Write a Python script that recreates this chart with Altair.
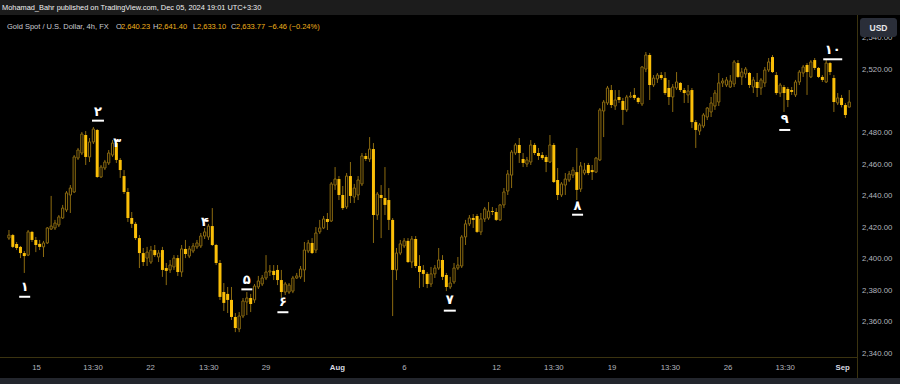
import altair as alt
import pandas as pd

# ---------------- data ----------------
OPEN = [
    2413.5, 2415.4, 2409.8, 2407.9, 2404.0, 2402.7, 2417.4, 2412.3, 2409.8, 2407.9,
    2410.4, 2419.2, 2419.9, 2421.8, 2426.2, 2431.3, 2440.8, 2442.7, 2464.2, 2467.4,
    2478.8, 2464.9, 2474.4, 2482.0, 2452.2, 2457.9, 2461.1, 2466.1, 2473.7, 2463.0,
    2452.8, 2442.7, 2426.2, 2422.5, 2413.5, 2404.0, 2400.8, 2398.3, 2405.9, 2401.5,
    2405.9, 2394.5, 2393.3, 2395.2, 2400.8, 2392.0, 2406.6, 2402.1, 2405.3, 2407.9,
    2408.5, 2414.8, 2414.2, 2421.1, 2409.1, 2397.7, 2379.3, 2378.1, 2374.3, 2363.5,
    2355.9, 2364.1, 2373.0, 2375.5, 2374.3, 2382.5, 2384.4, 2388.2, 2392.0, 2392.7,
    2393.3, 2386.9, 2379.3, 2379.3, 2379.9, 2388.2, 2388.9, 2393.3, 2405.3, 2410.4,
    2405.9, 2417.4, 2419.9, 2425.6, 2424.3, 2447.1, 2450.9, 2440.8, 2433.2, 2452.8,
    2439.5, 2440.8, 2447.8, 2465.5, 2463.6, 2469.9, 2428.1, 2440.8, 2438.9, 2437.6,
    2425.0, 2393.3, 2404.0, 2408.5, 2411.7, 2398.3, 2412.9, 2395.8, 2393.3, 2390.8,
    2384.4, 2390.8, 2394.5, 2399.6, 2390.1, 2382.5, 2385.7, 2394.5, 2395.8, 2414.2,
    2422.5, 2426.2, 2427.5, 2417.4, 2425.6, 2426.2, 2430.6, 2430.0, 2425.0, 2434.5,
    2443.3, 2453.4, 2467.4, 2472.5, 2463.6, 2460.4, 2461.7, 2472.5, 2467.4, 2466.1,
    2464.9, 2461.7, 2472.5, 2450.3, 2440.8, 2447.1, 2450.3, 2453.4, 2455.3, 2444.6,
    2454.7, 2459.8, 2456.6, 2455.3, 2463.0, 2494.0, 2499.1, 2507.3, 2497.2, 2502.9,
    2500.4, 2494.7, 2502.9, 2504.2, 2502.3, 2498.5, 2520.6, 2529.5, 2510.5, 2514.3,
    2516.8, 2514.9, 2508.6, 2502.9, 2508.6, 2511.8, 2507.3, 2504.2, 2507.3, 2487.0,
    2481.3, 2484.5, 2490.2, 2493.4, 2497.2, 2499.7, 2511.8, 2510.5, 2509.2, 2511.1,
    2524.4, 2515.6, 2517.5, 2518.1, 2509.2, 2512.4, 2508.6, 2511.8, 2520.0, 2528.2,
    2516.8, 2505.4, 2509.2, 2508.0, 2507.3, 2504.2, 2512.4, 2518.1, 2523.2, 2515.6,
    2526.3, 2521.3, 2515.6, 2512.4, 2524.4, 2514.9, 2499.1, 2502.3, 2497.8, 2496.5,
]
HIGH = [
    2418.6, 2416.1, 2411.0, 2408.5, 2405.3, 2418.6, 2418.0, 2414.2, 2412.3, 2411.7,
    2420.5, 2440.2, 2425.0, 2428.1, 2434.5, 2443.3, 2447.1, 2466.1, 2470.6, 2480.7,
    2481.3, 2476.9, 2483.9, 2482.6, 2459.8, 2463.0, 2469.3, 2475.6, 2475.6, 2464.2,
    2456.6, 2445.2, 2430.0, 2423.7, 2415.4, 2407.2, 2407.9, 2408.5, 2409.1, 2405.9,
    2407.9, 2397.7, 2399.6, 2402.7, 2402.7, 2409.1, 2412.3, 2408.5, 2410.4, 2412.3,
    2416.7, 2419.9, 2422.5, 2432.5, 2409.8, 2399.6, 2385.0, 2382.5, 2382.5, 2366.0,
    2366.6, 2375.5, 2379.3, 2378.1, 2384.4, 2389.5, 2390.1, 2402.7, 2396.4, 2396.4,
    2396.4, 2393.3, 2385.7, 2385.0, 2389.5, 2391.4, 2395.8, 2411.0, 2412.3, 2413.5,
    2420.5, 2425.0, 2427.5, 2429.4, 2449.0, 2458.5, 2452.8, 2446.5, 2454.7, 2461.7,
    2447.8, 2452.8, 2467.4, 2467.4, 2477.5, 2473.7, 2442.7, 2447.1, 2458.5, 2445.2,
    2426.2, 2407.2, 2412.3, 2413.5, 2413.5, 2414.8, 2414.8, 2402.7, 2396.4, 2392.0,
    2395.2, 2396.4, 2407.2, 2402.7, 2391.4, 2388.9, 2397.7, 2401.5, 2415.4, 2425.0,
    2428.1, 2428.7, 2428.7, 2429.4, 2433.2, 2436.3, 2433.2, 2432.5, 2435.1, 2445.2,
    2456.6, 2469.3, 2473.7, 2476.9, 2467.4, 2464.9, 2475.6, 2473.7, 2470.6, 2468.0,
    2466.1, 2478.8, 2473.7, 2457.9, 2449.0, 2454.7, 2456.0, 2458.5, 2470.6, 2461.7,
    2461.1, 2461.1, 2459.8, 2464.9, 2495.9, 2501.0, 2509.9, 2510.5, 2507.3, 2507.3,
    2502.3, 2504.2, 2506.1, 2508.6, 2502.9, 2522.5, 2531.4, 2530.8, 2516.8, 2518.1,
    2518.7, 2518.7, 2513.7, 2511.1, 2518.7, 2512.4, 2508.6, 2510.5, 2508.6, 2488.3,
    2486.4, 2492.7, 2496.5, 2502.9, 2507.3, 2518.1, 2514.9, 2515.6, 2516.8, 2526.3,
    2526.3, 2521.3, 2521.9, 2518.7, 2515.6, 2518.1, 2514.9, 2521.9, 2527.6, 2529.5,
    2518.7, 2511.8, 2510.5, 2509.2, 2509.2, 2513.7, 2520.0, 2523.2, 2524.4, 2526.3,
    2527.6, 2521.9, 2516.8, 2526.3, 2525.1, 2516.8, 2505.4, 2504.2, 2499.1, 2507.3,
]
LOW = [
    2412.3, 2407.2, 2405.9, 2400.8, 2391.4, 2402.1, 2411.0, 2404.6, 2405.9, 2401.5,
    2409.8, 2418.6, 2418.6, 2420.5, 2425.6, 2430.0, 2429.4, 2442.1, 2463.0, 2466.1,
    2459.8, 2461.7, 2473.1, 2451.6, 2451.6, 2456.6, 2459.8, 2464.9, 2461.1, 2451.6,
    2441.4, 2423.7, 2419.9, 2412.3, 2394.5, 2395.8, 2395.8, 2397.1, 2401.5, 2398.3,
    2388.9, 2383.7, 2391.4, 2393.3, 2389.5, 2388.9, 2400.8, 2400.8, 2404.0, 2406.6,
    2407.2, 2412.9, 2412.3, 2408.5, 2396.4, 2374.3, 2367.3, 2366.0, 2361.6, 2353.9,
    2353.9, 2362.8, 2364.7, 2366.6, 2372.4, 2381.2, 2383.1, 2386.9, 2389.5, 2386.9,
    2383.7, 2375.5, 2377.4, 2378.1, 2378.6, 2387.6, 2387.6, 2385.7, 2404.0, 2403.4,
    2404.0, 2416.1, 2419.2, 2418.6, 2423.7, 2444.0, 2437.6, 2431.3, 2431.9, 2435.7,
    2435.7, 2437.6, 2446.5, 2462.3, 2461.7, 2410.4, 2425.0, 2413.5, 2428.1, 2418.6,
    2364.1, 2386.9, 2402.7, 2407.2, 2397.7, 2394.5, 2394.5, 2381.8, 2382.5, 2381.8,
    2382.5, 2388.2, 2393.3, 2386.9, 2379.9, 2381.2, 2384.4, 2393.3, 2394.5, 2409.1,
    2421.1, 2419.9, 2416.7, 2415.4, 2423.7, 2425.0, 2428.1, 2424.3, 2424.3, 2432.5,
    2440.8, 2445.2, 2466.1, 2461.1, 2458.5, 2458.5, 2459.8, 2466.1, 2463.0, 2463.0,
    2455.3, 2461.1, 2448.4, 2437.6, 2439.5, 2440.8, 2449.0, 2451.6, 2437.6, 2442.7,
    2453.4, 2453.4, 2450.3, 2454.7, 2462.3, 2477.5, 2497.8, 2495.9, 2494.7, 2499.1,
    2485.2, 2493.4, 2502.3, 2501.0, 2498.5, 2497.2, 2518.7, 2501.0, 2509.2, 2511.8,
    2513.7, 2504.2, 2497.8, 2493.4, 2507.3, 2506.1, 2499.1, 2499.1, 2483.2, 2470.6,
    2478.8, 2483.2, 2488.3, 2490.2, 2494.7, 2497.2, 2509.2, 2509.2, 2508.6, 2509.2,
    2514.9, 2510.5, 2514.9, 2508.6, 2505.4, 2502.9, 2504.2, 2509.2, 2518.7, 2518.1,
    2504.2, 2502.9, 2493.4, 2496.5, 2504.2, 2502.9, 2510.5, 2515.6, 2504.2, 2514.9,
    2520.0, 2514.9, 2512.4, 2511.8, 2516.8, 2493.4, 2497.8, 2496.3, 2489.6, 2496.3,
]
CLOSE = [
    2415.4, 2407.9, 2407.2, 2404.0, 2402.1, 2417.4, 2412.3, 2409.1, 2407.9, 2410.4,
    2419.9, 2421.1, 2423.0, 2426.9, 2432.5, 2442.1, 2445.2, 2464.9, 2469.3, 2479.4,
    2464.9, 2474.4, 2482.6, 2452.2, 2458.5, 2461.7, 2467.4, 2473.7, 2463.0, 2456.6,
    2442.7, 2426.2, 2422.5, 2413.5, 2404.0, 2398.3, 2404.6, 2405.9, 2402.7, 2404.0,
    2393.3, 2392.7, 2396.4, 2400.8, 2392.0, 2406.6, 2403.4, 2406.6, 2408.5, 2410.4,
    2414.8, 2417.4, 2421.1, 2409.1, 2397.7, 2376.2, 2372.4, 2374.3, 2363.5, 2356.5,
    2364.1, 2373.6, 2375.5, 2371.7, 2383.1, 2386.3, 2388.2, 2392.0, 2392.7, 2390.1,
    2386.9, 2379.3, 2384.4, 2383.7, 2388.2, 2389.5, 2393.9, 2405.9, 2410.4, 2404.0,
    2416.7, 2419.9, 2425.6, 2423.7, 2447.8, 2450.9, 2440.8, 2432.5, 2452.8, 2440.2,
    2445.2, 2450.3, 2465.5, 2463.6, 2469.9, 2428.1, 2441.4, 2438.9, 2434.5, 2425.0,
    2393.3, 2404.0, 2409.8, 2411.7, 2398.3, 2412.9, 2395.8, 2392.0, 2390.8, 2384.4,
    2390.8, 2394.5, 2399.6, 2388.9, 2382.5, 2385.0, 2394.5, 2396.4, 2414.2, 2422.5,
    2426.2, 2425.0, 2417.4, 2425.6, 2431.9, 2430.6, 2430.0, 2425.0, 2434.5, 2442.7,
    2454.1, 2468.0, 2472.5, 2467.4, 2461.1, 2463.0, 2472.5, 2467.4, 2465.5, 2464.2,
    2461.7, 2472.5, 2449.0, 2440.8, 2447.8, 2450.9, 2454.1, 2456.6, 2444.0, 2459.2,
    2456.6, 2454.7, 2455.3, 2464.2, 2494.7, 2499.7, 2508.6, 2497.8, 2501.0, 2501.0,
    2494.7, 2502.9, 2503.5, 2502.3, 2499.7, 2521.9, 2529.5, 2510.5, 2514.9, 2516.8,
    2514.9, 2505.4, 2502.9, 2509.2, 2512.4, 2507.3, 2505.4, 2506.7, 2487.0, 2482.0,
    2485.2, 2491.5, 2495.9, 2499.1, 2505.4, 2511.8, 2513.0, 2513.7, 2513.0, 2525.1,
    2515.6, 2518.7, 2520.6, 2510.5, 2513.7, 2508.6, 2513.7, 2520.0, 2525.1, 2518.7,
    2505.4, 2510.5, 2505.4, 2501.0, 2506.1, 2512.4, 2518.7, 2521.9, 2518.7, 2525.1,
    2521.3, 2515.6, 2513.7, 2524.4, 2518.7, 2499.7, 2502.3, 2497.8, 2491.5, 2499.7,
]

# time-axis labels and the candle position they sit at
XLAB_POS = [7.2, 21.9, 36.9, 52.1, 67.0, 85.6, 103.1, 127.1, 142.0, 157.2, 172.4, 187.4, 202.3, 217.3]
XLAB_TXT = ["15", "13:30", "22", "13:30", "29", "Aug", "6", "12", "13:30", "19", "13:30", "26", "13:30", "Sep"]
XLAB_BOLD = [False, False, False, False, False, True, False, False, False, False, False, False, False, True]

# price-axis labels
YTICKS = [2540, 2520, 2480, 2460, 2440, 2420, 2400, 2380, 2360, 2340]

# legend values
LEG_KEYS = ["O", "H", "L", "C"]
LEG_VALS = ["2,640.23", "2,641.40", "2,633.10", "2,633.77"]
LEG_CHANGE = "−6.46 (−0.24%)"

# wave-count annotations (Persian digits): candle position, text price, underline price
ANN_TXT = ["۱", "۲", "۳", "۴", "۵", "۶", "۷", "۸", "۹", "۱۰"]
ANN_POS = [4.1, 23.2, 28.2, 51.1, 62.0, 71.4, 114.9, 148.2, 202.2, 214.7]
ANN_PRICE = [2382.7, 2493.6, 2473.6, 2423.9, 2386.9, 2373.2, 2374.3, 2433.8, 2488.8, 2532.7]
BAR_PRICE = [2376.3, 2487.9, None, None, 2381.0, 2366.5, 2367.5, 2428.3, 2482.0, 2526.8]
BAR_LEN = [11, 12, 0, 0, 11, 11, 12, 11, 11, 19]

# ---------------- styling ----------------
W, H = 900, 384
BG = "#000000"
BRIGHT = "#fbbf08"
DARK = "#8c6b10"
AXIS_TXT = "#b2b5be"
SEP = "#3b3310"
GOLD_TXT = "#f0b21c"
FONT = "Liberation Sans, Arial, sans-serif"

xs = alt.Scale(domain=[-1.031, 230.93], nice=False, zero=False)
ys = alt.Scale(domain=[2321.02, 2564.36], nice=False, zero=False)

df = pd.DataFrame({"i": list(range(len(OPEN))), "open": OPEN, "high": HIGH, "low": LOW, "close": CLOSE})
df["up"] = df["close"] >= df["open"]

X = alt.X("i:Q", scale=xs, axis=None)

wicks = alt.Chart(df).mark_rule(color=DARK, strokeWidth=1).encode(
    x=X, y=alt.Y("low:Q", scale=ys, axis=None), y2="high:Q")

up_bodies = alt.Chart(df).transform_filter("datum.up").mark_bar(
    size=2.2, fill=BG, stroke=DARK, strokeWidth=1).encode(
    x=X, y=alt.Y("open:Q", scale=ys, axis=None), y2="close:Q")

down_bodies = alt.Chart(df).transform_filter("!datum.up").mark_bar(
    size=3, color=BRIGHT).encode(
    x=X, y=alt.Y("open:Q", scale=ys, axis=None), y2="close:Q")

DUMMY = pd.DataFrame({"k": [0]})


def rect(x1, x2, y1, y2, color):
    return alt.Chart(DUMMY).mark_rect(color=color).encode(
        x=alt.value(x1), x2=alt.value(x2), y=alt.value(y1), y2=alt.value(y2))


def label(text, x, y, color, size=9, weight="normal", align="left", font=FONT):
    return alt.Chart(DUMMY).mark_text(
        text=text, align=align, baseline="middle", color=color,
        fontSize=size, fontWeight=weight, font=font).encode(
        x=alt.value(x), y=alt.value(y))


layers = []
# panels
layers.append(rect(0, 900, 0, 15, "#1c1c1c"))
layers.append(rect(0, 900, 378, 384, "#23262d"))
layers.append(rect(0, 857, 357, 358, SEP))
layers.append(rect(857, 858, 15, 378, SEP))

# candles
layers += [wicks, up_bodies, down_bodies]

# y labels
ydf = pd.DataFrame({"v": YTICKS})
layers.append(alt.Chart(ydf).mark_text(
    align="left", baseline="middle", color=AXIS_TXT, fontSize=7.8, font=FONT).encode(
    x=alt.value(862), y=alt.Y("v:Q", scale=ys, axis=None),
    text=alt.Text("v:Q", format=",.2f")))

# x labels
xdf = pd.DataFrame({"pos": XLAB_POS, "lab": XLAB_TXT, "bold": XLAB_BOLD})
layers.append(alt.Chart(xdf).transform_filter("!datum.bold").mark_text(
    align="center", baseline="middle", color=AXIS_TXT, fontSize=7.8, font=FONT).encode(
    x=alt.X("pos:Q", scale=xs, axis=None), y=alt.value(368), text="lab:N"))
layers.append(alt.Chart(xdf).transform_filter("datum.bold").mark_text(
    align="center", baseline="middle", color="#d8dae0", fontSize=7.8, fontWeight="bold", font=FONT).encode(
    x=alt.X("pos:Q", scale=xs, axis=None), y=alt.value(368), text="lab:N"))

# USD box
layers.append(alt.Chart(DUMMY).mark_rect(color="#2a2e39", cornerRadius=3).encode(
    x=alt.value(860), x2=alt.value(897), y=alt.value(18), y2=alt.value(37)))
layers.append(label("USD", 878.5, 27.5, "#e8e8ea", size=8.5, weight="bold", align="center"))

# header
layers.append(label("Mohamad_Bahr published on TradingView.com, Dec 05, 2024 19:01 UTC+3:30",
                    2, 8, "#f0f0f0", size=7.4))
layers.append(label("Gold Spot / U.S. Dollar, 4h, FX", 7, 27, "#c9cbd1", size=7.5))
key_x = [116, 153, 193, 231]
val_x = [121, 158, 197, 236]
for k, v, kx, vx in zip(LEG_KEYS, LEG_VALS, key_x, val_x):
    layers.append(label(k, kx, 27, "#c9cbd1", size=7.5))
    layers.append(label(v, vx, 27, GOLD_TXT, size=7.5))
layers.append(label(LEG_CHANGE, 268, 27, GOLD_TXT, size=7.5))

# annotations
adf = pd.DataFrame({"t": ANN_TXT, "pos": ANN_POS, "p": ANN_PRICE})
layers.append(alt.Chart(adf).mark_text(
    align="center", baseline="middle", color="#ffffff", fontSize=13, fontWeight="bold",
    font="DejaVu Sans").encode(
    x=alt.X("pos:Q", scale=xs, axis=None), y=alt.Y("p:Q", scale=ys, axis=None), text="t:N"))
bdf = pd.DataFrame({"pos": ANN_POS, "p": BAR_PRICE, "len": BAR_LEN}).dropna()
for ln in sorted(set(bdf["len"])):
    sub = bdf[bdf["len"] == ln]
    layers.append(alt.Chart(sub).mark_tick(
        orient="horizontal", size=ln, thickness=2, color="#ffffff", opacity=1).encode(
        x=alt.X("pos:Q", scale=xs, axis=None), y=alt.Y("p:Q", scale=ys, axis=None)))

chart = alt.layer(*layers).properties(
    width=W, height=H, background=BG, padding=0,
    autosize=alt.AutoSizeParams(type="none"),
).configure_view(stroke=None)

chart.save("out.html", embed_options={"renderer": "svg", "actions": False})
